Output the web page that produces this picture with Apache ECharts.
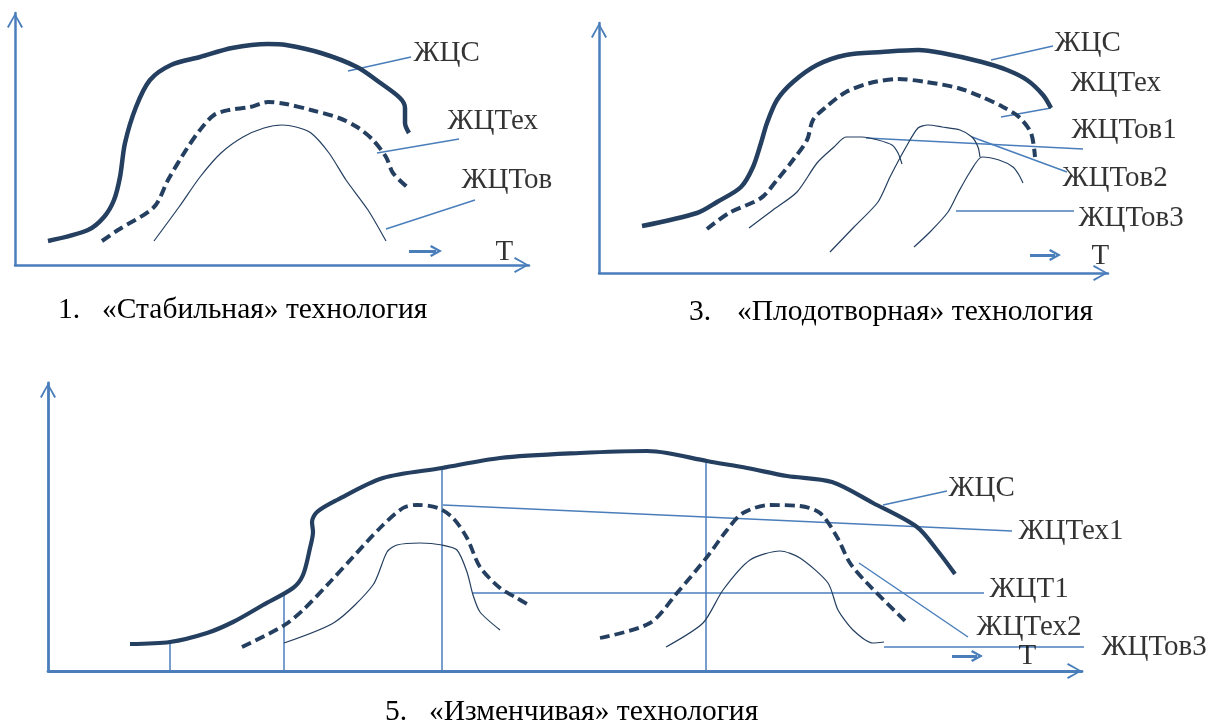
<!DOCTYPE html>
<html><head><meta charset="utf-8">
<script src="https://cdn.jsdelivr.net/npm/echarts@6/dist/echarts.min.js"></script>
<style>html,body{margin:0;padding:0;background:#fff}#c{width:1211px;height:725px}</style>
</head><body><div id="c"></div>
<script>
// ---------- Panel 1: «Стабильная» технология (arbitrary units) ----------
const p1_zhc   = [[33,24],[73,35],[89,48],[99,65],[105,88],[110,122],[121,158],[135,185],[156,200],[185,208],[217,217],[253,221],[271,220],[306,212],[342,198],[364,183],[385,167],[390,157],[390,142],[394,132]];
const p1_zhtex = [[87,24],[103,35],[139,58],[153,85],[171,115],[185,135],[199,150],[214,155],[235,158],[253,163],[271,161],[296,155],[324,147],[342,138],[358,125],[371,108],[378,92],[392,78]];
const p1_zhtov = [[139,24],[164,58],[185,88],[206,112],[228,128],[249,137],[267,140],[281,138],[296,132],[314,112],[331,85],[353,55],[371,24]];
const p1_leaders = [[[333,194],[396,208]],[[362,112],[444,126]],[[371,36],[460,65]]];
const p1_arrow = [[394,14],[421,14]];
const p1_labels = ['ЖЦС','ЖЦТех','ЖЦТов','T'];
const p1_labelAt = [[398,212],[432,144],[446,85],[480,13]];

// ---------- Panel 3: «Плодотворная» технология ----------
const p3_zhc   = [[43,47],[98,60],[118,71],[142,86],[154,106],[162,130],[168,150],[178,173],[194,191],[218,208],[247,218],[283,221],[319,223],[343,220],[383,211],[408,203],[428,193],[444,178],[452,165]];
const p3_zhtex = [[108,44],[130,60],[162,75],[178,93],[194,113],[208,133],[214,153],[227,166],[247,181],[271,190],[299,194],[327,191],[359,185],[383,176],[404,166],[420,156],[432,140],[436,116]];
const p3_zhtov1 = [[150,45],[174,63],[198,81],[218,110],[235,126],[247,136],[263,136],[279,133],[293,128],[299,120],[303,109]];
const p3_zhtov2 = [[231,21],[255,46],[279,71],[291,96],[307,126],[319,145],[329,148],[343,146],[361,143],[373,136],[379,126],[381,116]];
const p3_zhtov3 = [[315,26],[331,41],[349,61],[359,80],[371,101],[383,116],[400,113],[414,106],[420,98],[424,90]];
const p3_leaders = [[[392,213],[454,227]],[[402,156],[452,165]],[[267,135],[484,124]],[[373,136],[468,101]],[[357,62],[475,62]]];
const p3_arrow = [[431,18],[456,18]];
const p3_labels = ['ЖЦС','ЖЦТех','ЖЦТов1','ЖЦТов2','ЖЦТов3','T'];
const p3_labelAt = [[455,230],[471,190],[472,143],[463,95],[479,55],[492,17]];

// ---------- Panel 5: «Изменчивая» технология ----------
const p5_zhc    = [[82,27],[122,29],[159,38],[185,49],[215,66],[245,83],[255,96],[262,123],[265,139],[264,149],[269,159],[289,171],[335,193],[394,203],[452,213],[532,218],[599,220],[619,218],[659,210],[699,203],[739,195],[784,189],[825,168],[869,144],[889,121],[907,97]];
const p5_zhtex1 = [[194,24],[235,45],[255,61],[282,89],[305,114],[332,143],[355,163],[369,166],[390,163],[405,153],[419,133],[432,104],[452,83],[467,74],[481,66]];
const p5_zhtov1 = [[236,28],[287,49],[325,86],[339,119],[349,126],[372,128],[394,126],[409,121],[419,99],[425,76],[432,59],[452,41]];
const p5_zhtex2 = [[552,33],[602,48],[629,78],[659,114],[679,141],[695,158],[722,166],[752,165],[772,158],[789,134],[802,108],[819,88],[857,50]];
const p5_zhtov2 = [[618,24],[655,48],[675,81],[702,111],[732,120],[752,113],[780,88],[790,61],[805,41],[825,28],[836,29]];
const p5_verticals = [[[122,0],[122,29]],[[236,0],[236,78]],[[394,0],[394,201]],[[658,0],[658,210]]];
const p5_leaders = [[[835,166],[899,180]],[[395,166],[964,140]],[[425,78],[936,78]],[[811,108],[920,34]],[[836,24],[1049,24]]];
const p5_arrow = [[904,15],[929,15]];
const p5_labels = ['ЖЦС','ЖЦТех1','ЖЦТ1','ЖЦТех2','ЖЦТов3','T'];
const p5_labelAt = [[900,183],[970,140],[941,82],[928,44],[1053,24],[970,15]];

const captions = [
  {num:'1.', text:'«Стабильная» технология', nx:58, tx:102, y:310},
  {num:'3.', text:'«Плодотворная» технология', nx:689, tx:737, y:312},
  {num:'5.', text:'«Изменчивая» технология', nx:385, tx:429, y:712}
];

// ---------- styles / layout ----------
const NAVY = '#243f60', BLUE = '#4a7ebb';
const FONT = "'Liberation Serif', 'Times New Roman', serif";
const CHEV = 'path://M0,14L8,0L16,14L14.3,15L8,3.2L1.7,15Z';
const CHEV_SMALL = 'path://M0,13L8,0L16,13L13.2,14.5L8,5.5L2.8,14.5Z';
const grids = [
  {left:15, top:13, width:514, height:252, axisW:2.5},
  {left:599, top:23, width:509, height:250, axisW:2.5},
  {left:48, top:383, width:1034, height:288, axisW:2.8}
];

const xAxis = [], yAxis = [], gridOpt = [];
grids.forEach((g,i)=>{
  gridOpt.push({left:g.left, top:g.top, width:g.width, height:g.height, containLabel:false});
  const common = {type:'value', gridIndex:i, min:0, axisTick:{show:false}, axisLabel:{show:false}, splitLine:{show:false},
    axisLine:{show:true, onZero:false, symbol:['none', CHEV], symbolSize:[17,15], symbolOffset:[0,-7.5], lineStyle:{color:BLUE, width:g.axisW}}};
  xAxis.push(Object.assign({}, common, {max:g.width}));
  yAxis.push(Object.assign({}, common, {max:g.height}));
});

const series = [];
function curve(i, data, kind, w){
  const ls = {color:NAVY, width:w};
  if (kind==='dash') ls.type=[10,5];
  series.push({type:'line', xAxisIndex:i, yAxisIndex:i, data:data, showSymbol:false, symbol:'none',
    smooth: kind==='thin' ? 0.25 : 0.3, lineStyle:ls, silent:true, z:3});
}
function segs(i, list, w){
  series.push({type:'lines', coordinateSystem:'cartesian2d', xAxisIndex:i, yAxisIndex:i, silent:true, z:2,
    lineStyle:{color:BLUE, width:w, opacity:1}, data:list.map(c=>({coords:c}))});
}
function arrow(i, c){
  series.push({type:'lines', coordinateSystem:'cartesian2d', xAxisIndex:i, yAxisIndex:i, silent:true, z:2,
    symbol:['none', CHEV_SMALL], symbolSize:[14,12],
    lineStyle:{color:BLUE, width:3, opacity:1}, data:[{coords:c}]});
}
function labels(i, names, at){
  series.push({type:'scatter', xAxisIndex:i, yAxisIndex:i, silent:true, symbolSize:1, z:5, clip:false,
    itemStyle:{color:'rgba(0,0,0,0)'},
    label:{show:true, position:'right', distance:0, formatter:'{b}', color:'#000000', fontFamily:FONT, fontSize:29},
    data:names.map((n,k)=>({name:n, value:at[k]}))});
}

curve(0, p1_zhc, 'thick', 4.5); curve(0, p1_zhtex, 'dash', 4); curve(0, p1_zhtov, 'thin', 1.2);
segs(0, p1_leaders, 1.5); arrow(0, p1_arrow); labels(0, p1_labels, p1_labelAt);

curve(1, p3_zhc, 'thick', 4.5); curve(1, p3_zhtex, 'dash', 4);
curve(1, p3_zhtov1, 'thin', 1.2); curve(1, p3_zhtov2, 'thin', 1.2); curve(1, p3_zhtov3, 'thin', 1.2);
segs(1, p3_leaders, 1.5); arrow(1, p3_arrow); labels(1, p3_labels, p3_labelAt);

curve(2, p5_zhc, 'thick', 4.2); curve(2, p5_zhtex1, 'dash', 3.8); curve(2, p5_zhtex2, 'dash', 3.8);
curve(2, p5_zhtov1, 'thin', 1.2); curve(2, p5_zhtov2, 'thin', 1.2);
segs(2, p5_verticals, 1.5); segs(2, p5_leaders, 1.5); arrow(2, p5_arrow); labels(2, p5_labels, p5_labelAt);

const graphic = [];
captions.forEach(c=>{
  graphic.push({type:'text', x:c.nx, y:c.y, silent:true, style:{text:c.num, fill:'#000', font:'29.5px '+FONT, verticalAlign:'middle'}});
  graphic.push({type:'text', x:c.tx, y:c.y, silent:true, style:{text:c.text, fill:'#000', font:'29.5px '+FONT, verticalAlign:'middle'}});
});

const chart = echarts.init(document.getElementById('c'), null, {renderer:'canvas'});
chart.setOption({animation:false, backgroundColor:'#fff', grid:gridOpt, xAxis:xAxis, yAxis:yAxis, series:series, graphic:graphic});
</script></body></html>
